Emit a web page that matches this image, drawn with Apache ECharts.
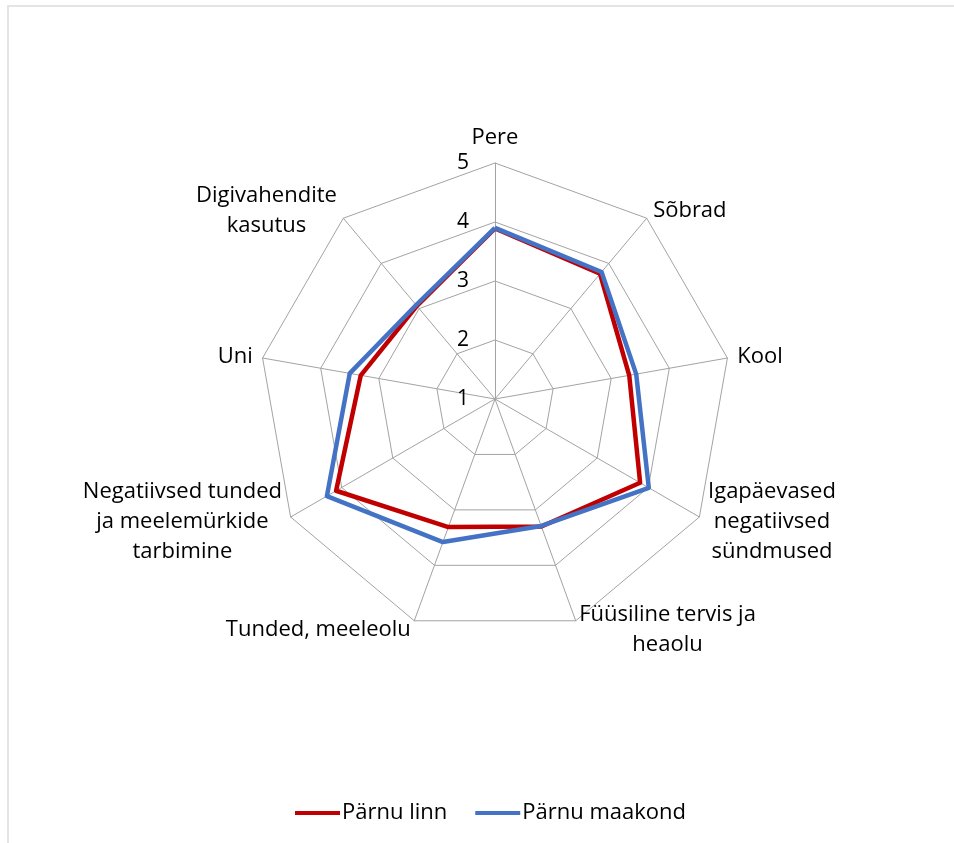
<!DOCTYPE html>
<html>
<head>
<meta charset="utf-8">
<script src="https://cdn.jsdelivr.net/npm/echarts@6/dist/echarts.min.js"></script>
<style>
  html, body { margin: 0; padding: 0; background: #ffffff; }
  #chart { width: 954px; height: 843px; position: relative; }
  #frame { position: absolute; left: 7px; top: 5px; width: 960px; height: 860px;
           border-top: 2px solid #e4e4e4; border-left: 2px solid #e4e4e4; pointer-events: none; }
</style>
</head>
<body>
<div id="chart"></div>
<div id="frame"></div>
<script>
// Axis categories, listed clockwise starting from the top
const categories = [
  'Pere',
  'Sõbrad',
  'Kool',
  'Igapäevased\nnegatiivsed\nsündmused',
  'Füüsiline tervis ja\nheaolu',
  'Tunded, meeleolu',
  'Negatiivsed tunded\nja meelemürkide\ntarbimine',
  'Uni',
  'Digivahendite\nkasutus'
];

// Average scores (scale 1–5), same order as categories
const linnValues     = [3.89, 3.77, 3.31, 3.84, 3.30, 3.31, 4.11, 3.31, 3.06];
const maakondValues  = [3.90, 3.81, 3.43, 4.01, 3.29, 3.58, 4.29, 3.50, 3.08];

const seriesNames = ['Pärnu linn', 'Pärnu maakond'];
const seriesColors = ['#C00000', '#4472C4'];

const scaleMin = 1;
const scaleMax = 5;

const FONT = '"Open Sans", Lato, sans-serif';
const NAME_SIZE = 22;

// ECharts lays radar indicators out counter-clockwise; reorder so the
// categories run clockwise from the top.
function clockwise(arr) {
  return [arr[0]].concat(arr.slice(1).reverse());
}

const indicator = clockwise(categories).map(function (name, i) {
  const ind = { name: name, min: scaleMin, max: scaleMax };
  if (i === 0) {
    ind.axisLabel = { show: true };
  }
  return ind;
});

const chart = echarts.init(document.getElementById('chart'), null, { renderer: 'canvas' });

chart.setOption({
  backgroundColor: '#ffffff',
  animation: false,
  radar: {
    center: [495, 399],
    radius: 236,
    startAngle: 90,
    shape: 'polygon',
    splitNumber: scaleMax - scaleMin,
    nameGap: 10,
    indicator: indicator,
    axisName: {
      color: '#000000',
      fontFamily: FONT,
      fontSize: NAME_SIZE,
      lineHeight: 30,
      formatter: function (name) {
        return name.split('\n').map(function (line) { return '{c|' + line + '}'; }).join('\n');
      },
      rich: {
        c: { align: 'center', fontFamily: FONT, fontSize: NAME_SIZE, lineHeight: 30, color: '#000000' }
      }
    },
    axisLine: { lineStyle: { color: '#a3a3a3', width: 1 } },
    splitLine: { lineStyle: { color: '#a3a3a3', width: 1 } },
    splitArea: { show: false },
    axisTick: { show: false },
    axisLabel: {
      show: false,
      showMinLabel: true,
      showMaxLabel: true,
      margin: 26,
      color: '#000000',
      fontFamily: FONT,
      fontSize: 21
    }
  },
  legend: {
    top: 802,
    left: 295,
    padding: 0,
    icon: 'rect',
    itemWidth: 45,
    itemHeight: 4,
    itemGap: 28,
    textStyle: { fontFamily: FONT, fontSize: NAME_SIZE, color: '#000000', padding: [0, 0, 0, -3] },
    data: seriesNames
  },
  series: [{
    type: 'radar',
    symbol: 'none',
    silent: true,
    data: [
      {
        name: seriesNames[0],
        value: clockwise(linnValues),
        itemStyle: { color: seriesColors[0] },
        lineStyle: { color: seriesColors[0], width: 4.5 }
      },
      {
        name: seriesNames[1],
        value: clockwise(maakondValues),
        itemStyle: { color: seriesColors[1] },
        lineStyle: { color: seriesColors[1], width: 4.5 }
      }
    ]
  }]
});
</script>
</body>
</html>
